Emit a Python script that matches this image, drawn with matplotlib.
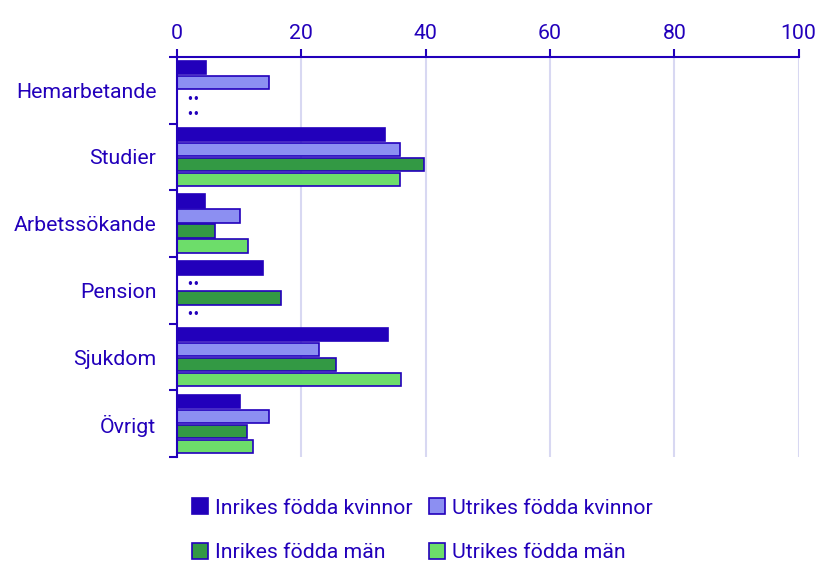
import matplotlib.pyplot as plt
from matplotlib.patches import Patch
import numpy as np

plt.rcParams['font.family'] = ['Roboto', 'DejaVu Sans']

categories = ['Hemarbetande', 'Studier', 'Arbetssökande', 'Pension', 'Sjukdom', 'Övrigt']
series = ['Inrikes födda kvinnor', 'Utrikes födda kvinnor', 'Inrikes födda män', 'Utrikes födda män']
# None = ".." (uppgift saknas)
inr_kv = [4.7, 33.4, 4.5, 13.8, 33.9, 10.1]
utr_kv = [14.8, 35.9, 10.1, None, 22.8, 14.8]
inr_man = [None, 39.7, 6.1, 16.7, 25.6, 11.3]
utr_man = [None, 35.9, 11.4, None, 36.0, 12.2]

colors = ['#2200bb', '#8c8ff2', '#339944', '#6ddd6a']
txt = '#2200bb'
fs = 15.3

fig = plt.figure(figsize=(8.2, 5.63), dpi=100)
ax = fig.add_axes([0.216, 0.188, 0.758, 0.711])

y = np.arange(len(categories))
slot = 0.225
for k, vals in enumerate([inr_kv, utr_kv, inr_man, utr_man]):
    pos = y + (k - 1.5) * slot
    for p, v in zip(pos, vals):
        if v is None:
            ax.text(1.4, p + 0.03, '••', color=txt, fontsize=8.5, family='DejaVu Sans',
                    va='center', ha='left')
        else:
            ax.barh(p, v, height=0.2, color=colors[k], edgecolor=txt, linewidth=1.2)

ax.set_xlim(0, 100)
ax.set_ylim(len(categories) - 0.5, -0.5)
ax.xaxis.tick_top()
ax.set_xticks(range(0, 101, 20))
ax.grid(axis='x', color='#d8d8f2', linewidth=1.5)
ax.set_axisbelow(True)
ax.set_yticks(y)
ax.set_yticklabels(categories)
ax.set_yticks(np.arange(-0.5, len(categories)), minor=True)
ax.tick_params(axis='y', which='major', length=0, pad=15, labelsize=fs, labelcolor=txt)
ax.tick_params(axis='y', which='minor', length=6, width=1.5, color=txt)
ax.tick_params(axis='x', length=6, width=1.5, color=txt, labelsize=fs, labelcolor=txt, pad=4)
for s in ['right', 'bottom']:
    ax.spines[s].set_visible(False)
for s in ['left', 'top']:
    ax.spines[s].set_color(txt)
    ax.spines[s].set_linewidth(1.5)

handles = [Patch(facecolor=c, edgecolor=txt, linewidth=1.2) for c in colors]
order = [0, 2, 1, 3]
leg = fig.legend([handles[i] for i in order], [series[i] for i in order], ncol=2,
                 loc='center', bbox_to_anchor=(0.515, 0.058),
                 frameon=False, fontsize=fs, labelcolor=txt, handlelength=0.75,
                 handleheight=0.75, handletextpad=0.3, columnspacing=0.8, labelspacing=1.2)

fig.savefig('out.png', dpi=100)
